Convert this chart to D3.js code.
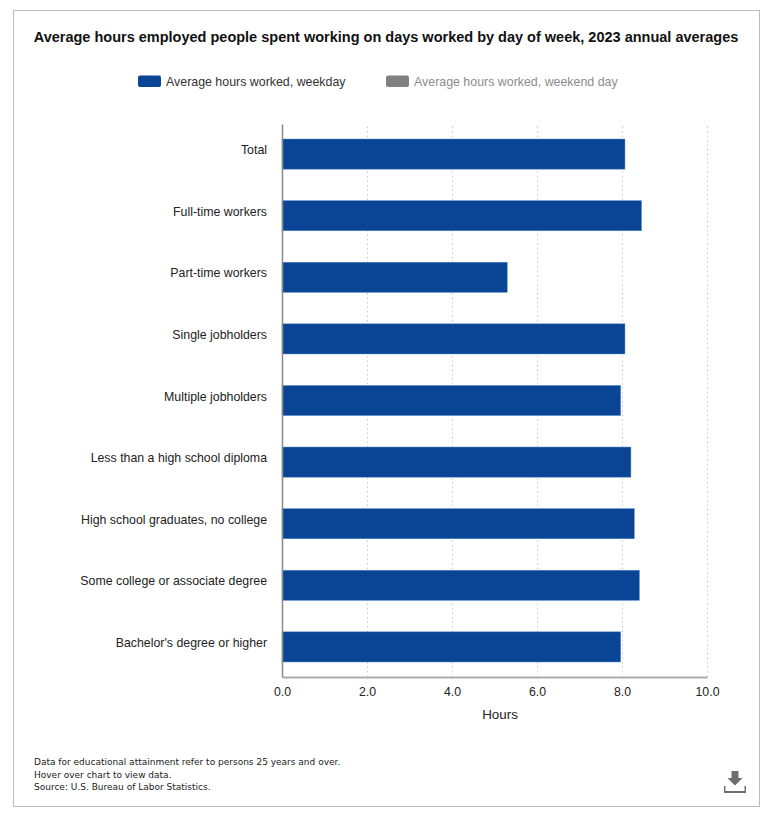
<!DOCTYPE html>
<html>
<head>
<meta charset="utf-8">
<script src="https://cdn.jsdelivr.net/npm/d3@7"></script>
<style>
  html, body { margin: 0; padding: 0; background: #fff; }
  svg { display: block; font-family: "Liberation Sans", Arial, sans-serif; }
  .grid line { stroke: #c8c8c8; stroke-dasharray: 1.5 3; }
  .grid .domain { display: none; }
  .note { font-family: "DejaVu Sans", sans-serif; font-size: 9px; fill: #222; }
</style>
</head>
<body>
<div id="chart"></div>
<script>
const categories = [
  "Total",
  "Full-time workers",
  "Part-time workers",
  "Single jobholders",
  "Multiple jobholders",
  "Less than a high school diploma",
  "High school graduates, no college",
  "Some college or associate degree",
  "Bachelor's degree or higher"
];
const weekdayHours = [8.07, 8.46, 5.3, 8.07, 7.97, 8.21, 8.29, 8.41, 7.97];
const xTicks = [0, 2, 4, 6, 8, 10];
const legendLabels = ["Average hours worked, weekday", "Average hours worked, weekend day"];
const notes = [
  "Data for educational attainment refer to persons 25 years and over.",
  "Hover over chart to view data.",
  "Source: U.S. Bureau of Labor Statistics."
];

const svgWidth = 768, svgHeight = 819;
const margin = { top: 124, right: 61, bottom: 142, left: 282 },
  width = svgWidth - margin.left - margin.right,
  height = svgHeight - margin.top - margin.bottom;

const svg = d3.select("#chart").append("svg")
  .attr("width", svgWidth)
  .attr("height", svgHeight)
  .attr("viewBox", `0 0 ${svgWidth} ${svgHeight}`);

// outer frame
svg.append("rect")
  .attr("x", 13.5).attr("y", 10.5)
  .attr("width", 746).attr("height", 796)
  .attr("fill", "#fff")
  .attr("stroke", "#bdbdbd");

// title
svg.append("text")
  .attr("x", 386).attr("y", 42)
  .attr("text-anchor", "middle")
  .attr("font-size", 14.5)
  .attr("font-weight", "bold")
  .attr("fill", "#111")
  .text("Average hours employed people spent working on days worked by day of week, 2023 annual averages");

// legend
const legendColors = ["#0a4595", "#808080"];
const legendText = ["#333", "#8c8c8c"];
const legendX = [138, 386];
const legend = svg.selectAll(".legend-item")
  .data(legendLabels)
  .join("g")
  .attr("class", "legend-item")
  .attr("transform", (d, i) => `translate(${legendX[i]},75.5)`);
legend.append("rect")
  .attr("width", 23).attr("height", 11.5).attr("rx", 2)
  .attr("fill", (d, i) => legendColors[i]);
legend.append("text")
  .attr("x", 28).attr("y", 10)
  .attr("font-size", 12.4)
  .attr("fill", (d, i) => legendText[i])
  .text(d => d);

const main = svg.append("g")
  .attr("transform", `translate(${margin.left},${margin.top})`);

const x = d3.scaleLinear().domain([0, 10]).range([0, width]);
const y = d3.scaleBand().domain(categories).range([0, height]).paddingInner(0.51).paddingOuter(0.2435);

// vertical grid
main.append("g")
  .attr("class", "grid")
  .attr("transform", `translate(0,${height})`)
  .call(d3.axisBottom(x).tickValues(xTicks.slice(1)).tickSize(-height).tickFormat(""));

// bars
main.selectAll(".bar")
  .data(categories)
  .join("rect")
  .attr("class", "bar")
  .attr("x", x(0))
  .attr("y", d => y(d))
  .attr("width", (d, i) => x(weekdayHours[i]))
  .attr("height", y.bandwidth())
  .attr("fill", "#0a4595")
  .attr("stroke", "#5f93cf")
  .attr("stroke-width", 0.5);

// x axis
const xAxis = main.append("g")
  .attr("transform", `translate(0,${height})`)
  .call(d3.axisBottom(x).tickValues(xTicks).tickSize(0).tickPadding(10).tickFormat(d3.format(".1f")));
xAxis.select(".domain").attr("stroke", "#ababab").attr("stroke-width", 2);
xAxis.selectAll("text").attr("font-size", 12.3).attr("font-family", "Liberation Sans").attr("fill", "#222");

// y axis
const yAxis = main.append("g")
  .call(d3.axisLeft(y).tickSize(0).tickPadding(15));
yAxis.select(".domain").attr("stroke", "#8a8a8a").attr("stroke-width", 1.5);
yAxis.selectAll("text")
  .attr("dy", "0em")
  .attr("y", 0)
  .attr("font-size", 12.35)
  .attr("font-family", "Liberation Sans")
  .attr("fill", "#222");

// axis title
main.append("text")
  .attr("x", 218).attr("y", height + 41.5)
  .attr("text-anchor", "middle")
  .attr("font-size", 13.4)
  .attr("fill", "#222")
  .text("Hours");

// footnotes
svg.selectAll(".note")
  .data(notes)
  .join("text")
  .attr("class", "note")
  .attr("x", 34)
  .attr("y", (d, i) => [765, 778, 790][i])
  .text(d => d);

// download icon
const icon = svg.append("g").attr("transform", "translate(735,782)").attr("fill", "#6e6e6e");
icon.append("path").attr("d", "M-3.5,-11 H3.5 V-4 H7.5 L0,3.5 L-7.5,-4 H-3.5 Z");
icon.append("path").attr("d", "M-11,4 H-9.5 V9 H9.5 V4 H11 V11 H-11 Z");
</script>
</body>
</html>
